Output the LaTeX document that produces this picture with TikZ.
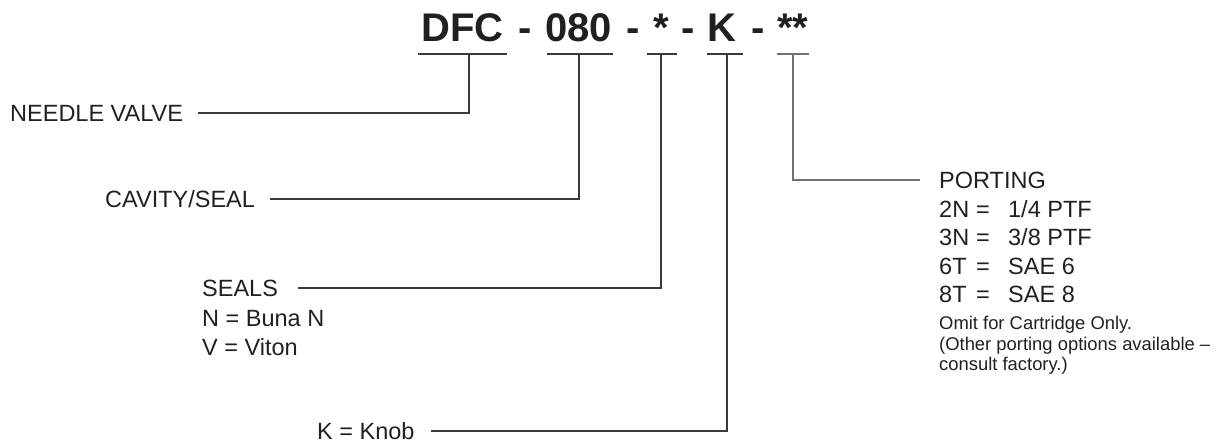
\documentclass[tikz,border=0pt]{standalone}
\usepackage{fontspec}
\setmainfont{Liberation Sans}
\usetikzlibrary{positioning}

\definecolor{ink}{HTML}{231F20}
\definecolor{rulegray}{HTML}{3A3A3A}
\definecolor{lightrule}{HTML}{707070}

\tikzset{
  code/.style={inner sep=0pt, anchor=base west, text=ink, font=\fontsize{40}{42}\selectfont\bfseries},
  label/.style={inner sep=0pt, anchor=west, text=ink, font=\fontsize{23.5}{28.5}\selectfont},
  options/.style={inner sep=0pt, anchor=north west, align=left, text=ink, font=\fontsize{23.5}{28.5}\selectfont},
  note/.style={inner sep=0pt, anchor=north west, align=left, text=ink, font=\fontsize{18.4}{20.5}\selectfont},
  rule/.style={draw=rulegray, line width=1.2pt}
}

\begin{document}
\begin{tikzpicture}[x=1pt, y=-1pt]

    \useasboundingbox (0,0) rectangle (1219,443);

    % Model code
    \node[code] (dfc) at (421,42) {DFC};
    \node[code] (dash1) at (518,42) {-};
    \node[code] (cavity) at (545,42) {080};
    \node[code] (dash2) at (626,42) {-};
    \node[code] (seal) at (653,42) {*};
    \node[code] (dash3) at (681,42) {-};
    \node[code] (knob) at (707,42) {K};
    \node[code] (dash4) at (751,42) {-};
    \node[code] (port) at (777,42) {**};

    % Underlines
    \draw[rule] (418,54) -- (507,54);
    \draw[rule] (547,54) -- (613,54);
    \draw[rule] (647,54) -- (677,54);
    \draw[rule] (707,54) -- (743,54);
    \draw[rule, draw=lightrule] (777,54) -- (809,54);

    \coordinate (tdfc) at (469,54);
    \coordinate (tcavity) at (579,54);
    \coordinate (tseal) at (661,54);
    \coordinate (tknob) at (727,54);
    \coordinate (tport) at (793,54);

    % Labels
    \node[label] (needlelbl) at (10,113) {NEEDLE VALVE};
    \node[label] (cavitylbl) at (105,199) {CAVITY/SEAL};
    \node[label] (sealslbl) at (202,288) {SEALS};
    \node[options, below=14pt of sealslbl.south west, anchor=north west] (sealsopt) {N = Buna N\\V = Viton};
    \node[label] (knoblbl) at (317,431) {K = Knob};
    \node[label] (portlbl) at (939,180) {PORTING};
    \node[options, below=11.5pt of portlbl.south west, anchor=north west] (portopt)
      {\makebox[37pt][l]{2N}\makebox[32pt][l]{=}1/4 PTF\\
       \makebox[37pt][l]{3N}\makebox[32pt][l]{=}3/8 PTF\\
       \makebox[37pt][l]{6T}\makebox[32pt][l]{=}SAE 6\\
       \makebox[37pt][l]{8T}\makebox[32pt][l]{=}SAE 8};
    \node[note, below=13pt of portopt.south west, anchor=north west] (portnote)
      {Omit for Cartridge Only.\\(Other porting options available --\\consult factory.)};

    % Connectors
    \draw[rule] ([xshift=15pt]needlelbl.east) -| (tdfc);
    \draw[rule] ([xshift=15pt]cavitylbl.east) -| (tcavity);
    \draw[rule] ([xshift=20pt]sealslbl.east) -| (tseal);
    \draw[rule] ([xshift=16pt]knoblbl.east) -| (tknob);
    \draw[rule, draw=lightrule] ([xshift=-19pt]portlbl.west) -| (tport);

\end{tikzpicture}
\end{document}
